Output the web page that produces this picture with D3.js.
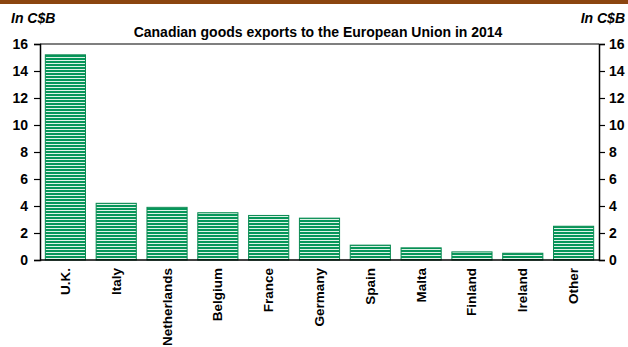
<!DOCTYPE html>
<html>
<head>
<meta charset="utf-8">
<script src="https://cdn.jsdelivr.net/npm/d3@7/dist/d3.min.js"></script>
<style>
  html, body { margin: 0; padding: 0; background: #fff; }
  svg { display: block; }
  text { font-family: "Liberation Sans", Arial, sans-serif; font-weight: bold; fill: #000; }
</style>
</head>
<body>
<svg id="chart" width="628" height="347"></svg>
<script>
// Canadian goods exports to the EU, 2014 (C$ billions)
const countries = ["U.K.", "Italy", "Netherlands", "Belgium", "France", "Germany",
                   "Spain", "Malta", "Finland", "Ireland", "Other"];
const exportsBn = [15.2, 4.2, 3.9, 3.5, 3.3, 3.1, 1.1, 0.9, 0.6, 0.5, 2.5];
const yTicks = [0, 2, 4, 6, 8, 10, 12, 14, 16];
const chartTitle = "Canadian goods exports to the European Union in 2014";
const unitLabel = "In C$B";

const W = 628, H = 347;
const margin = { top: 44, right: 29, bottom: 87, left: 40 };
const svg = d3.select("#chart");

// striped bar fill
const defs = svg.append("defs");
const pat = defs.append("pattern")
  .attr("id", "stripes")
  .attr("patternUnits", "userSpaceOnUse")
  .attr("width", 6).attr("height", 3);
pat.append("rect").attr("width", 6).attr("height", 3).attr("fill", "#dff3e7");
pat.append("rect").attr("y", 1).attr("width", 6).attr("height", 2).attr("fill", "#06965a");

// brown header band
svg.append("rect").attr("x", 0).attr("y", 0).attr("width", W).attr("height", 4)
  .attr("fill", "#8b4510");

const x = d3.scaleBand()
  .domain(countries)
  .range([margin.left, W - margin.right])
  .paddingInner(0.21).paddingOuter(0.105);

const y = d3.scaleLinear()
  .domain([0, 16])
  .range([H - margin.bottom, margin.top]);

// bars
svg.append("g").selectAll("rect")
  .data(countries)
  .join("rect")
  .attr("x", (d) => x(d))
  .attr("y", (d, i) => y(exportsBn[i]))
  .attr("width", x.bandwidth())
  .attr("height", (d, i) => y(0) - y(exportsBn[i]))
  .attr("fill", "url(#stripes)")
  .attr("stroke", "#0b8a52")
  .attr("stroke-width", 1);

// left axis
const left = svg.append("g")
  .attr("transform", `translate(${margin.left},0)`)
  .call(d3.axisLeft(y).tickValues(yTicks).tickSize(6).tickPadding(6));
// right axis
const right = svg.append("g")
  .attr("transform", `translate(${W - margin.right},0)`)
  .call(d3.axisRight(y).tickValues(yTicks).tickSize(6).tickPadding(4));

[left, right].forEach(g => {
  g.select(".domain").attr("stroke", "#000").attr("stroke-width", 1.5);
  g.selectAll(".tick line").attr("stroke", "#000").attr("stroke-width", 1.2);
  g.selectAll(".tick text")
    .style("font-family", "'Liberation Sans', Arial, sans-serif")
    .style("font-weight", "bold").style("font-size", "14px").attr("fill", "#000");
});

// top border and baseline
svg.append("line")
  .attr("x1", margin.left).attr("x2", W - margin.right)
  .attr("y1", y(16)).attr("y2", y(16))
  .attr("stroke", "#000").attr("stroke-width", 1.2);
svg.append("line")
  .attr("x1", margin.left).attr("x2", W - margin.right)
  .attr("y1", y(0)).attr("y2", y(0))
  .attr("stroke", "#000").attr("stroke-width", 1.5);

// category labels, rotated
svg.append("g").selectAll("text")
  .data(countries)
  .join("text")
  .attr("transform", (d) => `translate(${x(d) + x.bandwidth() / 2 + 4.5},${y(0) + 8}) rotate(-90)`)
  .attr("text-anchor", "end")
  .style("font-size", "13.5px")
  .text((d) => d);

// title
svg.append("text")
  .attr("x", 318).attr("y", 37)
  .attr("text-anchor", "middle")
  .style("font-size", "14px")
  .text(chartTitle);

// unit labels
svg.append("text")
  .attr("x", 11).attr("y", 23)
  .style("font-size", "14px").style("font-style", "italic")
  .text(unitLabel);
svg.append("text")
  .attr("x", 625).attr("y", 23)
  .attr("text-anchor", "end")
  .style("font-size", "14px").style("font-style", "italic")
  .text(unitLabel);
</script>
</body>
</html>
